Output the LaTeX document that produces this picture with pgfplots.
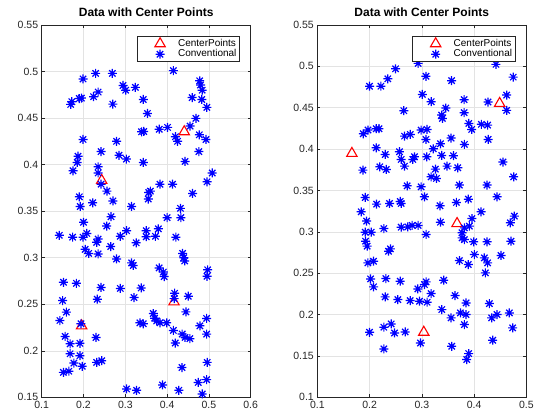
\documentclass[border=0pt]{standalone}
\usepackage{pgfplots}
\pgfplotsset{compat=1.18}
\usepackage{fontspec}
\setmainfont{Liberation Sans}
\definecolor{axgray}{gray}{0.15}
\pgfdeclareplotmark{mstar}{%
 \pgfpathmoveto{\pgfqpoint{-\pgfplotmarksize}{0pt}}\pgfpathlineto{\pgfqpoint{\pgfplotmarksize}{0pt}}%
 \pgfpathmoveto{\pgfqpoint{0pt}{-\pgfplotmarksize}}\pgfpathlineto{\pgfqpoint{0pt}{\pgfplotmarksize}}%
 \pgfpathmoveto{\pgfqpoint{-0.7071\pgfplotmarksize}{-0.7071\pgfplotmarksize}}\pgfpathlineto{\pgfqpoint{0.7071\pgfplotmarksize}{0.7071\pgfplotmarksize}}%
 \pgfpathmoveto{\pgfqpoint{-0.7071\pgfplotmarksize}{0.7071\pgfplotmarksize}}\pgfpathlineto{\pgfqpoint{0.7071\pgfplotmarksize}{-0.7071\pgfplotmarksize}}%
 \pgfusepathqstroke}
\pgfplotsset{
  mystyle/.style={
    scale only axis, width=209pt, height=372.3pt,
    axis line style={axgray, line width=0.5pt},
    tick style={axgray, line width=0.5pt},
    tick align=inside, major tick length=3pt,
    ticklabel style={font=\fontsize{10.5}{12}\selectfont, text=axgray},
    /pgf/number format/assume math mode=true,
    xmajorgrids, ymajorgrids,
    grid style={gray!22, line width=0.5pt},
    title={\bfseries Data with Center Points},
    title style={font=\fontsize{12}{14}\selectfont, at={(0.5,1)}, anchor=south, inner sep=2pt},
    legend style={at={(1,1)}, anchor=north east, xshift=-11pt, yshift=-11pt,
      font=\fontsize{10}{11}\selectfont, draw=axgray, line width=0.5pt,
      inner xsep=1pt, inner ysep=1.5pt, row sep=0pt, text=black,
      nodes={inner xsep=2pt, inner ysep=0.5pt, text height=7.5pt, text depth=2pt}},
    legend cell align=left,
    legend image code/.code={%
      \path[draw=none] (0pt,0pt) -- (38pt,0pt);
      \draw[##1, only marks] plot coordinates {(22pt,0pt)};},
  },
  cstyle/.style={only marks, mark=triangle, mark size=6pt, red, line width=1.1pt},
  pstyle/.style={only marks, mark=mstar, mark size=4.5pt, blue, line width=1.2pt},
}
\begin{document}
\begin{tikzpicture}
\useasboundingbox (-41.7pt,-17.7pt) rectangle (496.3pt,397.3pt);
\begin{axis}[mystyle, at={(0pt,0pt)}, anchor=south west,
  xmin=0.1, xmax=0.6, ymin=0.15, ymax=0.55,
  xtick={0.1,0.2,0.3,0.4,0.5,0.6}, xticklabels={0.1,0.2,0.3,0.4,0.5,0.6},
  ytick={0.15,0.2,0.25,0.3,0.35,0.4,0.45,0.5,0.55},
  yticklabels={0.15,0.2,0.25,0.3,0.35,0.4,0.45,0.5,0.55}]
\addplot[cstyle] coordinates {(0.2435,0.383) (0.441,0.4353) (0.1955,0.2268) (0.4165,0.2525)};
\addlegendentry{CenterPoints}
\addplot[pstyle] table {
x y
0.1694 0.4647
0.172 0.4676
0.190 0.471
0.195 0.4715
0.199 0.492
0.229 0.498
0.224 0.473
0.235 0.478
0.269 0.498
0.270 0.465
0.2946 0.485
0.301 0.480
0.324 0.483
0.343 0.470
0.353 0.455
0.415 0.501
0.478 0.490
0.480 0.4855
0.484 0.480
0.460 0.472
0.483 0.470
0.495 0.4615
0.469 0.4497
0.455 0.4414
0.477 0.432
0.493 0.427
0.476 0.414
0.401 0.440
0.381 0.438
0.420 0.430
0.425 0.425
0.339 0.4353
0.344 0.4356
0.199 0.427
0.279 0.425
0.187 0.409
0.185 0.4023
0.175 0.3934
0.242 0.414
0.285 0.410
0.3026 0.406
0.343 0.4023
0.235 0.3977
0.235 0.391
0.242 0.379
0.256 0.3715
0.2705 0.361
0.315 0.355
0.356 0.370
0.360 0.3715
0.355 0.363
0.383 0.379
0.413 0.379
0.443 0.4034
0.461 0.369
0.4955 0.3815
0.508 0.391
0.190 0.3654
0.192 0.355
0.222 0.359
0.432 0.353
0.433 0.343
0.400 0.343
0.142 0.324
0.174 0.322
0.200 0.338
0.199 0.322
0.208 0.326
0.266 0.344
0.2555 0.334
0.288 0.323
0.303 0.329
0.235 0.320
0.2315 0.3165
0.265 0.312
0.326 0.316
0.350 0.329
0.350 0.3225
0.372 0.323
0.379 0.331
0.421 0.322
0.204 0.309
0.2125 0.3046
0.235 0.304
0.279 0.2986
0.315 0.2944
0.319 0.2917
0.437 0.3046
0.440 0.300
0.442 0.2965
0.381 0.289
0.391 0.2846
0.393 0.2797
0.497 0.287
0.4955 0.280
0.152 0.2736
0.183 0.2725
0.242 0.268
0.288 0.267
0.338 0.2675
0.233 0.2554
0.321 0.2572
0.150 0.254
0.159 0.2415
0.1435 0.2325
0.418 0.2618
0.417 0.256
0.4506 0.2586
0.445 0.2418
0.367 0.240
0.370 0.235
0.335 0.230
0.343 0.229
0.375 0.232
0.383 0.230
0.399 0.230
0.4945 0.2347
0.4785 0.2268
0.415 0.2218
0.4195 0.2083
0.436 0.218
0.443 0.2143
0.4545 0.213
0.4945 0.2179
0.194 0.229
0.156 0.2154
0.168 0.2075
0.1915 0.208
0.230 0.2143
0.168 0.1968
0.1915 0.1947
0.177 0.1868
0.197 0.1833
0.2315 0.1875
0.2435 0.1893
0.152 0.1768
0.165 0.178
0.496 0.1875
0.4355 0.182
0.303 0.159
0.327 0.1575
0.389 0.1633
0.428 0.1575
0.4745 0.166
0.4945 0.169
0.484 0.1536
};
\addlegendentry{Conventional}
\end{axis}
\begin{axis}[mystyle, at={(275.6pt,0pt)}, anchor=south west,
  xmin=0.1, xmax=0.5, ymin=0.1, ymax=0.55,
  xtick={0.1,0.2,0.3,0.4,0.5}, xticklabels={0.1,0.2,0.3,0.4,0.5},
  ytick={0.1,0.15,0.2,0.25,0.3,0.35,0.4,0.45,0.5,0.55},
  yticklabels={0.1,0.15,0.2,0.25,0.3,0.35,0.4,0.45,0.5,0.55}]
\addplot[cstyle] coordinates {(0.1662,0.3948) (0.449,0.4552) (0.3675,0.310) (0.3038,0.1786)};
\addlegendentry{CenterPoints}
\addplot[pstyle] table {
x y
0.200 0.476
0.2217 0.476
0.235 0.485
0.2497 0.497
0.293 0.5036
0.308 0.488
0.357 0.4827
0.442 0.5024
0.475 0.487
0.4624 0.4653
0.4624 0.4468
0.301 0.4661
0.318 0.4573
0.381 0.4597
0.381 0.444
0.4268 0.4569
0.2656 0.4464
0.346 0.4496
0.338 0.4411
0.3395 0.4371
0.188 0.4185
0.197 0.423
0.2127 0.4246
0.218 0.4246
0.2669 0.4157
0.278 0.4177
0.2987 0.423
0.310 0.4238
0.308 0.4117
0.322 0.4004
0.3357 0.4064
0.356 0.4133
0.3815 0.4056
0.390 0.431
0.3955 0.4238
0.414 0.430
0.426 0.429
0.427 0.4117
0.2127 0.4016
0.230 0.3935
0.2573 0.3968
0.2605 0.3875
0.2669 0.3794
0.2828 0.3875
0.286 0.3907
0.3096 0.3907
0.338 0.3923
0.3605 0.392
0.1873 0.3746
0.2197 0.3786
0.232 0.3754
0.3261 0.3758
0.3178 0.3665
0.328 0.3645
0.3484 0.3794
0.3688 0.3774
0.4554 0.3843
0.4758 0.3665
0.272 0.3556
0.2987 0.3544
0.305 0.3423
0.1917 0.3415
0.2134 0.3335
0.2382 0.3343
0.2586 0.3367
0.2605 0.3343
0.335 0.3315
0.3662 0.3355
0.372 0.3565
0.389 0.3395
0.4248 0.3565
0.444 0.3423
0.4134 0.3242
0.184 0.3242
0.1943 0.313
0.1917 0.2996
0.2032 0.2996
0.1924 0.2887
0.1955 0.2827
0.2274 0.304
0.1968 0.2625
0.2076 0.2645
0.2363 0.2766
0.240 0.2794
0.2605 0.3056
0.2732 0.306
0.2815 0.3077
0.293 0.3077
0.3083 0.2968
0.3357 0.3117
0.377 0.2988
0.377 0.2927
0.3815 0.3048
0.391 0.3069
0.396 0.316
0.3815 0.2907
0.3994 0.2879
0.4248 0.2879
0.4694 0.3109
0.4771 0.319
0.4707 0.2887
0.4006 0.2726
0.372 0.2653
0.389 0.2605
0.4197 0.2685
0.426 0.2625
0.4217 0.2504
0.4516 0.2714
0.2019 0.2431
0.2076 0.2335
0.2312 0.2435
0.2586 0.2403
0.342 0.2415
0.2299 0.2214
0.2541 0.2181
0.2777 0.2169
0.2955 0.2161
0.3102 0.2149
0.2924 0.2310
0.305 0.2363
0.3083 0.2395
0.3178 0.2254
0.3382 0.2060
0.356 0.196
0.3637 0.223
0.3739 0.202
0.3847 0.2141
0.3815 0.1879
0.3847 0.2
0.4293 0.2133
0.4337 0.196
0.444 0.2
0.4675 0.202
0.4739 0.1839
0.4357 0.1690
0.200 0.1786
0.2274 0.1847
0.2414 0.1887
0.2478 0.1778
0.2682 0.179
0.2274 0.1585
0.2975 0.1657
0.3573 0.1617
0.3898 0.1528
0.386 0.1456
};
\addlegendentry{Conventional}
\end{axis}
\end{tikzpicture}
\end{document}
